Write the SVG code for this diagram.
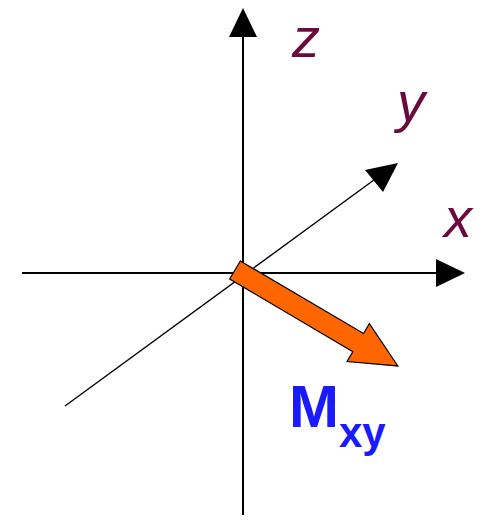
<svg xmlns="http://www.w3.org/2000/svg" width="481" height="520" viewBox="0 0 481 520">
<defs>
<style>
.ax{stroke:#000;stroke-width:2;fill:none}
.lbl{font-family:"Liberation Sans",Arial,sans-serif;font-style:italic;font-size:56px;fill:#6b0a3f}
.m{font-family:"Liberation Sans",Arial,sans-serif;font-weight:bold;fill:#1a1aff}
</style>
</defs>
<rect width="481" height="520" fill="#fff"/>
<g id="connectors">
<line class="ax" x1="243" y1="515" x2="243" y2="34"/>
<polygon points="243,8 229,37 257,37" fill="#000"/>
<line class="ax" x1="22" y1="273" x2="438" y2="273"/>
<polygon points="465,273 436,259 436,287" fill="#000"/>
<line class="ax" style="stroke-width:1.4" x1="65" y1="406" x2="378" y2="177"/>
<polygon points="398,163 365,170 383,192" fill="#000"/>
</g>
<g id="Mxy-arrow">
<polygon transform="translate(235,270) rotate(30.5)" points="0,-10.5 143,-10.5 143,-22 189,0 143,22 143,10.5 0,10.5" fill="#ff6600" stroke="#000" stroke-width="1.2" stroke-linejoin="miter"/>
</g>
<g id="label-z"><text class="lbl" x="292" y="57">z</text></g>
<g id="label-y"><text class="lbl" x="397" y="121">y</text></g>
<g id="label-x"><text class="lbl" x="444" y="237">x</text></g>
<g id="label-M"><text class="m" x="289" y="427" font-size="60">M<tspan font-size="42" dy="20">xy</tspan></text></g>
</svg>
